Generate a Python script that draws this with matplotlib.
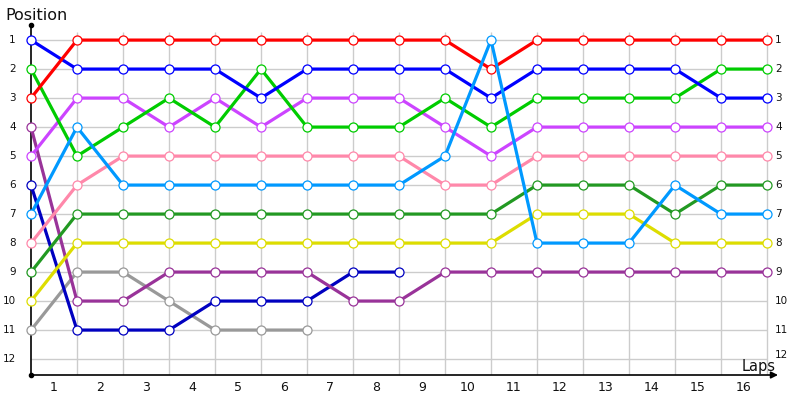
import matplotlib
matplotlib.use("Agg")
import matplotlib.pyplot as plt

laps = list(range(1, 17))
positions_labels = list(range(1, 13))

red = [3, 1, 1, 1, 1, 1, 1, 1, 1, 1, 2, 1, 1, 1, 1, 1, 1]
blue = [1, 2, 2, 2, 2, 3, 2, 2, 2, 2, 3, 2, 2, 2, 2, 3, 3]
green = [2, 5, 4, 3, 4, 2, 4, 4, 4, 3, 4, 3, 3, 3, 3, 2, 2]
violet = [5, 3, 3, 4, 3, 4, 3, 3, 3, 4, 5, 4, 4, 4, 4, 4, 4]
pink = [8, 6, 5, 5, 5, 5, 5, 5, 5, 6, 6, 5, 5, 5, 5, 5, 5]
dark_green = [9, 7, 7, 7, 7, 7, 7, 7, 7, 7, 7, 6, 6, 6, 7, 6, 6]
yellow = [10, 8, 8, 8, 8, 8, 8, 8, 8, 8, 8, 7, 7, 7, 8, 8, 8]
plum = [4, 10, 10, 9, 9, 9, 9, 10, 10, 9, 9, 9, 9, 9, 9, 9, 9]
navy = [6, 11, 11, 11, 10, 10, 10, 9, 9]
gray = [11, 9, 9, 10, 11, 11, 11]
light_blue = [7, 4, 6, 6, 6, 6, 6, 6, 6, 5, 1, 8, 8, 8, 6, 7, 7]

series = [
    (gray, "#999999"),
    (navy, "#0000C0"),
    (plum, "#993399"),
    (yellow, "#DDDD00"),
    (dark_green, "#229922"),
    (pink, "#FF88AA"),
    (violet, "#CC44FF"),
    (green, "#00CC00"),
    (blue, "#0000FF"),
    (red, "#FF0000"),
    (light_blue, "#0099FF"),
]

fig = plt.figure(figsize=(8, 4), dpi=100)
ax = fig.add_axes([31 / 800, 25 / 400, 747 / 800, 350 / 400])
nx = len(laps)
ax.set_xlim(0, 747 / 46)
ax.set_ylim(12.55, 0.48)
for s in ax.spines.values():
    s.set_visible(False)
ax.set_xticks([])
ax.set_yticks([])

# grid
ax.vlines(range(1, nx + 1), 12.55, 0.72, color="#CCCCCC", lw=1, zorder=0)
ax.hlines(positions_labels, 0, nx, color="#CCCCCC", lw=1, zorder=0)

# axes lines
ax.plot([0, 0], [12.55, 0.48], color="black", lw=1.2, clip_on=False, zorder=1)
ax.plot([0], [0.48], marker="o", ms=3, color="black", clip_on=False)
ax.plot([0], [12.55], marker="o", ms=3, color="black", clip_on=False)
ax.annotate("", xy=(747 / 46, 12.55), xytext=(0, 12.55),
            arrowprops=dict(arrowstyle="-|>", color="black", lw=1.2,
                            mutation_scale=10, shrinkA=0, shrinkB=0),
            annotation_clip=False)

for vals, col in series:
    xs = list(range(len(vals)))
    ax.plot(xs, vals, color=col, lw=2.3, marker="o", ms=6.5,
            mfc="white", mec=col, mew=0.9, zorder=3, clip_on=False,
            solid_joinstyle="miter")

# y labels
for p in positions_labels:
    ax.text(-0.33, p, str(p), ha="right", va="center", fontsize=7.5,
            color="#111111")
    ax.text(nx + 0.18, p - (0.15 if p == 12 else 0), str(p), ha="left",
            va="center", fontsize=7.5, color="#111111")

# x labels
for i, lap in enumerate(laps):
    ax.text(i + 0.5, 12.55 + 0.42, str(lap), ha="center", va="center",
            fontsize=9, color="#111111", clip_on=False)

fig.text(5 / 800, 1 - 16 / 400, "Position", ha="left", va="center",
         fontsize=11.5, color="#111111")
fig.text(742 / 800, 1 - 366 / 400, "Laps", ha="left", va="center",
         fontsize=10.5, color="#111111")

fig.savefig("out.png", dpi=100)
